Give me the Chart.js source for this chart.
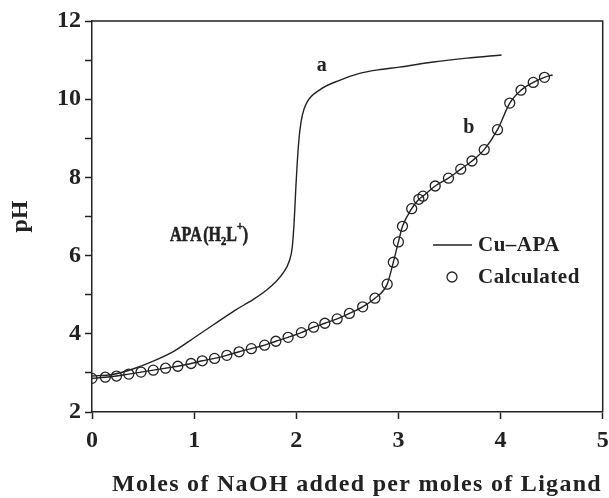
<!DOCTYPE html>
<html>
<head>
<meta charset="utf-8">
<script src="https://cdn.jsdelivr.net/npm/chart.js@4.4.1/dist/chart.umd.min.js"></script>
<style>
  html, body { margin: 0; padding: 0; background: #fff; }
  #wrap { width: 609px; height: 498px; }
</style>
</head>
<body>
<div id="wrap"><canvas id="myChart" width="609" height="498"></canvas></div>
<script>
// curve a : APA (H2L+) ligand alone
const aMoles = [0, 0.2, 0.4, 0.6, 0.8, 1.0, 1.2, 1.4, 1.58, 1.71, 1.8, 1.87, 1.93, 1.96, 1.98, 1.995, 2.015, 2.035, 2.06, 2.1, 2.23, 2.43, 2.62, 2.8, 3.01, 3.34, 3.67, 4.01];
const aPH = [2.92, 2.96, 3.1, 3.3, 3.55, 3.9, 4.25, 4.6, 4.88, 5.12, 5.33, 5.55, 5.85, 6.2, 6.9, 7.7, 8.6, 9.2, 9.6, 9.9, 10.24, 10.49, 10.66, 10.75, 10.82, 10.95, 11.05, 11.13];

// curve b : Cu-APA experimental (line)
const bMoles = [0, 0.13, 0.24, 0.36, 0.48, 0.6, 0.72, 0.84, 0.97, 1.08, 1.2, 1.32, 1.44, 1.56, 1.69, 1.8, 1.92, 2.05, 2.17, 2.28, 2.4, 2.52, 2.65, 2.77, 2.89, 2.95, 3.0, 3.04, 3.13, 3.2, 3.24, 3.36, 3.49, 3.61, 3.72, 3.84, 3.97, 4.09, 4.2, 4.32, 4.43, 4.51];
const bPH = [2.86, 2.89, 2.92, 2.97, 3.02, 3.07, 3.12, 3.17, 3.24, 3.31, 3.37, 3.45, 3.54, 3.62, 3.71, 3.81, 3.91, 4.03, 4.17, 4.27, 4.38, 4.52, 4.69, 4.91, 5.27, 5.83, 6.35, 6.75, 7.2, 7.44, 7.52, 7.78, 7.98, 8.21, 8.42, 8.71, 9.22, 9.9, 10.23, 10.43, 10.56, 10.62];

// calculated points (circles)
const calcMoles = [0, 0.13, 0.24, 0.36, 0.48, 0.6, 0.72, 0.84, 0.97, 1.08, 1.2, 1.32, 1.44, 1.56, 1.69, 1.8, 1.92, 2.05, 2.17, 2.28, 2.4, 2.52, 2.65, 2.77, 2.89, 2.95, 3.0, 3.04, 3.13, 3.2, 3.24, 3.36, 3.49, 3.61, 3.72, 3.84, 3.97, 4.09, 4.2, 4.32, 4.43];
const calcPH = [2.86, 2.89, 2.92, 2.97, 3.02, 3.07, 3.12, 3.17, 3.24, 3.31, 3.37, 3.45, 3.54, 3.62, 3.71, 3.81, 3.91, 4.03, 4.17, 4.27, 4.38, 4.52, 4.69, 4.91, 5.27, 5.83, 6.35, 6.75, 7.2, 7.44, 7.52, 7.78, 7.98, 8.21, 8.42, 8.71, 9.22, 9.9, 10.23, 10.43, 10.56];

const xTicks = [0, 1, 2, 3, 4, 5];
const yTickLabels = [2, 4, 6, 8, 10, 12];

const FONT = '"Liberation Serif", "Times New Roman", serif';
const INK = '#222';

function pts(xs, ys) {
    return xs.map((x, i) => ({ x: x, y: ys[i] }));
}

// box around plot + text labels + legend
const decorations = {
    id: 'decorations',
    afterDraw(chart) {
        const ctx = chart.ctx;
        const ca = chart.chartArea;
        const xs = chart.scales.x, ys = chart.scales.y;
        ctx.save();
        ctx.strokeStyle = INK;
        ctx.lineWidth = 1.5;
        ctx.beginPath();
        ctx.moveTo(ca.left, ca.top);
        ctx.lineTo(ca.right, ca.top);
        ctx.lineTo(ca.right, ca.bottom);
        ctx.stroke();

        ctx.fillStyle = INK;
        ctx.textBaseline = 'alphabetic';

        // x axis title
        ctx.letterSpacing = '1.3px';
        ctx.font = 'bold 24px ' + FONT;
        ctx.textAlign = 'center';
        ctx.fillText('Moles of NaOH added per moles of Ligand', 357, 491);
        ctx.letterSpacing = '0px';

        ctx.font = 'bold 20px ' + FONT;
        ctx.fillText('a', xs.getPixelForValue(2.25), ys.getPixelForValue(10.72));
        ctx.fillText('b', xs.getPixelForValue(3.69), ys.getPixelForValue(9.14));

        // APA (H2L+), set condensed
        ctx.save();
        ctx.translate(170, 241);
        ctx.scale(0.8, 1);
        ctx.textAlign = 'left';
        ctx.strokeStyle = INK;
        ctx.lineWidth = 0.6;
        let x = 0;
        const part = (t, size, dy) => {
            ctx.font = 'bold ' + size + 'px ' + FONT;
            ctx.fillText(t, x, dy);
            ctx.strokeText(t, x, dy);
            x += ctx.measureText(t).width;
        };
        part('APA', 20, 0);
        x += 2;
        part('(H', 20, 0);
        part('2', 13, 4);
        part('L', 20, 0);
        part('+', 13, -11);
        part(')', 20, 0);
        ctx.restore();

        // legend
        const lineDs = chart.data.datasets[1];
        const dotDs = chart.data.datasets[2];
        ctx.font = 'bold 21px ' + FONT;
        ctx.letterSpacing = '0.5px';
        ctx.textAlign = 'left';
        ctx.textBaseline = 'middle';
        ctx.strokeStyle = lineDs.borderColor;
        ctx.lineWidth = lineDs.borderWidth;
        ctx.beginPath();
        ctx.moveTo(433, 245);
        ctx.lineTo(472, 245);
        ctx.stroke();
        ctx.fillText(lineDs.label, 478, 246);
        ctx.strokeStyle = dotDs.borderColor;
        ctx.lineWidth = dotDs.borderWidth;
        ctx.beginPath();
        ctx.arc(452, 277, dotDs.pointRadius, 0, Math.PI * 2);
        ctx.stroke();
        ctx.fillText(dotDs.label, 478, 278);
        ctx.letterSpacing = '0px';
        ctx.restore();
    }
};

function initializeChart() {
    const ctx = document.getElementById('myChart').getContext('2d');
    new Chart(ctx, {
        type: 'line',
        data: {
            datasets: [{
                label: 'APA (H2L+)',
                data: pts(aMoles, aPH),
                borderColor: INK,
                borderWidth: 1.4,
                pointRadius: 0,
                cubicInterpolationMode: 'monotone',
                fill: false
            }, {
                label: 'Cu\u2013APA',
                data: pts(bMoles, bPH),
                borderColor: INK,
                borderWidth: 1.4,
                pointRadius: 0,
                cubicInterpolationMode: 'monotone',
                fill: false
            }, {
                label: 'Calculated',
                data: pts(calcMoles, calcPH),
                showLine: false,
                borderColor: INK,
                backgroundColor: 'rgba(0,0,0,0)',
                borderWidth: 1.3,
                pointRadius: 5,
                pointStyle: 'circle'
            }]
        },
        options: {
            responsive: false,
            animation: false,
            layout: { padding: { top: 21, right: 6, left: 0, bottom: 0 } },
            plugins: { legend: { display: false }, tooltip: { enabled: false } },
            scales: {
                x: {
                    type: 'linear',
                    min: 0, max: 5,
                    afterBuildTicks: s => { s.ticks = xTicks.map(v => ({ value: v })); },
                    afterFit: s => { s.height = 86; s.paddingLeft = 0; s.paddingRight = 0; },
                    border: { color: INK, width: 1.5 },
                    grid: { drawOnChartArea: false, drawTicks: true, tickLength: 7, tickColor: INK, tickWidth: 1.5 },
                    ticks: { color: INK, padding: 7, font: { family: FONT, size: 24, weight: 'bold' } }
                },
                y: {
                    type: 'linear',
                    min: 2, max: 12,
                    ticks: {
                        stepSize: 1,
                        color: INK,
                        padding: 4,
                        font: { family: FONT, size: 24, weight: 'bold' },
                        callback: v => yTickLabels.includes(v) ? String(v) : ''
                    },
                    afterFit: s => { s.width = 92; s.paddingTop = 0; s.paddingBottom = 0; },
                    border: { color: INK, width: 1.5 },
                    grid: { drawOnChartArea: false, drawTicks: true, tickLength: 7, tickColor: INK, tickWidth: 1.5 },
                    title: {
                        display: true,
                        text: 'pH',
                        color: INK,
                        font: { family: FONT, size: 24, weight: 'bold' },
                        padding: { top: 6, bottom: 0 }
                    }
                }
            }
        },
        plugins: [decorations]
    });
}

initializeChart();
</script>
</body>
</html>
